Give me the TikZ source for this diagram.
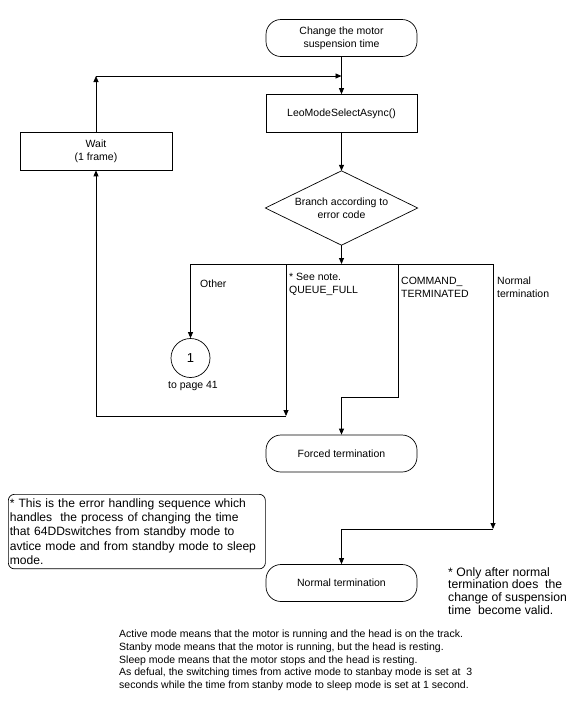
\documentclass[tikz,border=0pt]{standalone}
\usepackage{fontspec}
\setmainfont{Liberation Sans}
\usetikzlibrary{arrows.meta,shapes.geometric}
\begin{document}
\begin{tikzpicture}[x=1pt,y=-1pt,
  every node/.style={font=\fontsize{10.5}{12.7}\selectfont},
  line/.style={line width=0.8pt,draw=black},
  arr/.style={line,-{Triangle[width=5pt,length=6pt]}},
  term/.style={draw,line width=0.7pt,rounded corners=15pt,minimum width=151pt,minimum height=37pt,align=center,inner sep=1pt},
  proc/.style={draw,line width=0.7pt,minimum width=151pt,minimum height=38pt,align=center,inner sep=1pt},
  lab/.style={anchor=base west,align=left,inner sep=0pt}
]
\useasboundingbox (0,0) rectangle (574,710);
\fill[white] (0,0) rectangle (574,710);

\node[term] (start) at (341.5,38) {Change the motor\\suspension time};
\node[proc] (leo) at (341.5,113.5) {LeoModeSelectAsync()};
\node[proc,minimum width=152pt] (wait) at (96,151) {Wait\\(1 frame)};
\node[minimum width=152pt,minimum height=74pt,inner sep=0pt,align=center] (br) at (341.5,208) {Branch according to\\error code};
\draw[line width=0.7pt] (br.north) -- (br.east) -- (br.south) -- (br.west) -- cycle;
\node[circle,draw,line width=0.7pt,minimum size=39pt,inner sep=0pt,font=\fontsize{13}{14}\selectfont] (c1) at (190.5,358) {1};
\node[anchor=center,inner sep=0pt] (pg) at (193,386) {to page 41};
\node[term] (forced) at (341.5,453.5) {Forced termination};
\node[term] (normal) at (341.5,583) {Normal termination};

\coordinate (lt) at (96,76);
\coordinate (lj) at (341.5,76);
\coordinate (bj) at (341.5,264);
\coordinate (bo) at (190.5,264);
\coordinate (bq) at (286,264);
\coordinate (bc) at (398,264);
\coordinate (bn) at (493,264);
\coordinate (q1) at (286,416);
\coordinate (q2) at (96,416);
\coordinate (c2) at (398,397);
\coordinate (c3) at (341.5,397);
\coordinate (n1) at (493,529);
\coordinate (n2) at (341.5,529);

\draw[arr] (start.south) -- (leo.north);
\draw[arr] (wait.north) -- (lt);
\draw[arr] (lt) -- (lj);
\draw[arr] (leo.south) -- (br.north);
\draw[arr] (br.south) -- (bj);
\draw[line] (bo) -- (bn);
\draw[arr] (bo) -- (c1.north);
\draw[arr] (bq) -- (q1);
\draw[arr] (q1) -- (q2) -- (wait.south);
\draw[arr] (bc) -- (c2) -- (c3) -- (forced.north);
\draw[arr] (bn) -- (n1);
\draw[arr] (n1) -- (n2) -- (normal.north);

\node[lab] (lother) at (200,287) {Other};
\node[lab] (lqueue) at (289,293) {* See note.\\QUEUE\_FULL};
\node[lab] (lcmd) at (401,297) {COMMAND\_\\TERMINATED};
\node[lab] (lnorm) at (497,297) {Normal\\termination};

\node[draw,line width=0.7pt,rounded corners=6pt,anchor=north west,align=left,inner xsep=1.5pt,inner ysep=4pt,text width=254pt,font=\fontsize{12.1}{14.4}\selectfont] (note) at (8,494) {* This is the error handling sequence which\\handles\ \ the process of changing the time\\that 64DDswitches from standby mode to\\avtice mode and from standby mode to sleep\\mode.};

\node[lab,font=\fontsize{12.2}{12.6}\selectfont] (rnote) at (448,614) {* Only after normal\\termination does\ \ the\\change of suspension\\time\ \ become valid.};

\node[lab] (bottom) at (119,688.5) {Active mode means that the motor is running and the head is on the track.\\Stanby mode means that the motor is running, but the head is resting.\\Sleep mode means that the motor stops and the head is resting.\\As defual, the switching times from active mode to stanbay mode is set at\ \ 3\\seconds while the time from stanby mode to sleep mode is set at 1 second.};
\end{tikzpicture}
\end{document}
